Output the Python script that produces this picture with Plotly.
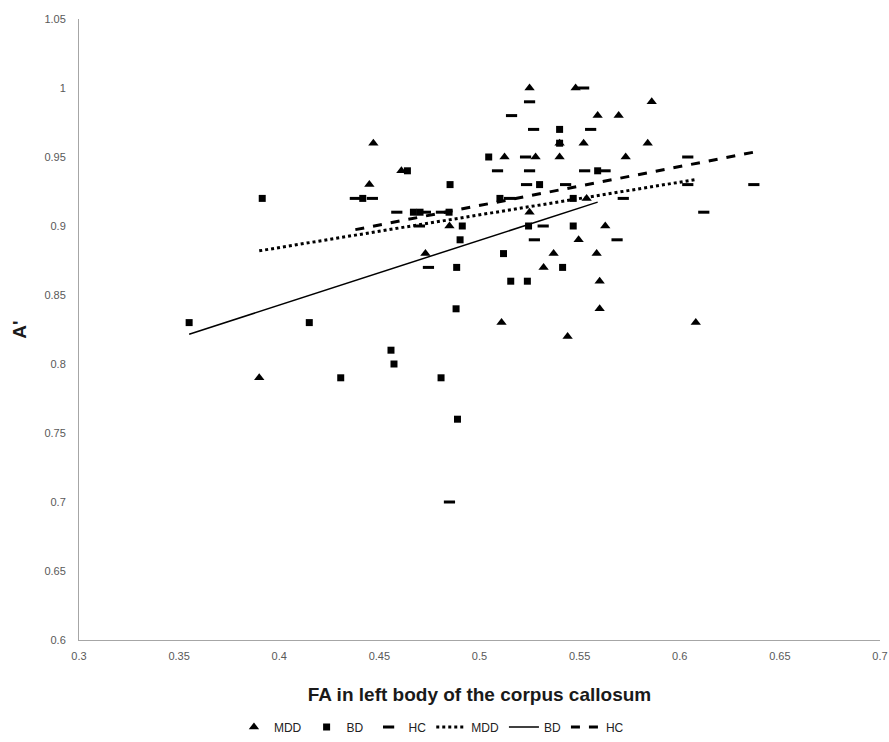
import numpy as np
import plotly.graph_objects as go

# MDD (triangles)
mdd_x = [0.390, 0.445, 0.447, 0.461, 0.473, 0.485, 0.511, 0.5125, 0.525, 0.525,
         0.528, 0.532, 0.537, 0.540, 0.540, 0.544, 0.548, 0.5495, 0.552, 0.5535,
         0.5585, 0.559, 0.560, 0.560, 0.5628, 0.5695, 0.573, 0.584, 0.586, 0.608]
mdd_y = [0.79, 0.93, 0.96, 0.94, 0.88, 0.90, 0.83, 0.95, 0.91, 1.00,
         0.95, 0.87, 0.88, 0.95, 0.96, 0.82, 1.00, 0.89, 0.96, 0.92,
         0.88, 0.98, 0.86, 0.84, 0.90, 0.98, 0.95, 0.96, 0.99, 0.83]

# BD (squares)
bd_x = [0.355, 0.3915, 0.415, 0.4307, 0.4417, 0.4558, 0.4573, 0.464, 0.467, 0.4703,
        0.4808, 0.4848, 0.4853, 0.4886, 0.4883, 0.489, 0.4903, 0.4914, 0.5046, 0.5102,
        0.512, 0.5156, 0.5239, 0.5245, 0.530, 0.540, 0.540, 0.5415, 0.5468, 0.5468, 0.559]
bd_y = [0.83, 0.92, 0.83, 0.79, 0.92, 0.81, 0.80, 0.94, 0.91, 0.91,
        0.79, 0.91, 0.93, 0.87, 0.84, 0.76, 0.89, 0.90, 0.95, 0.92,
        0.88, 0.86, 0.86, 0.90, 0.93, 0.97, 0.96, 0.87, 0.92, 0.90, 0.94]

# HC (dashes)
hc_x = [0.438, 0.4465, 0.4587, 0.470, 0.473, 0.481, 0.4745, 0.485, 0.509, 0.515,
        0.516, 0.523, 0.5235, 0.525, 0.525, 0.527, 0.5274, 0.5318, 0.543, 0.552,
        0.5525, 0.5555, 0.5627, 0.5718, 0.5687, 0.604, 0.604, 0.612, 0.637]
hc_y = [0.92, 0.92, 0.91, 0.90, 0.91, 0.91, 0.87, 0.70, 0.94, 0.92,
        0.98, 0.95, 0.93, 0.99, 0.94, 0.97, 0.89, 0.90, 0.93, 1.00,
        0.94, 0.97, 0.94, 0.92, 0.89, 0.95, 0.93, 0.91, 0.93]

x_ticks = [0.3, 0.35, 0.4, 0.45, 0.5, 0.55, 0.6, 0.65, 0.7]
x_tick_text = ["0.3", "0.35", "0.4", "0.45", "0.5", "0.55", "0.6", "0.65", "0.7"]
y_ticks = [0.6, 0.65, 0.7, 0.75, 0.8, 0.85, 0.9, 0.95, 1.0, 1.05]
y_tick_text = ["0.6", "0.65", "0.7", "0.75", "0.8", "0.85", "0.9", "0.95", "1", "1.05"]


def trend(xs, ys):
    xs = np.array(xs)
    ys = np.array(ys)
    m, b = np.polyfit(xs, ys, 1)
    xx = np.array([xs.min(), xs.max()])
    return xx, m * xx + b


fig = go.Figure()
fig.add_trace(go.Scatter(x=mdd_x, y=mdd_y, mode="markers", name="MDD",
                         marker=dict(symbol="triangle-up", size=9, color="black")))
fig.add_trace(go.Scatter(x=bd_x, y=bd_y, mode="markers", name="BD",
                         marker=dict(symbol="square", size=7, color="black")))
fig.add_trace(go.Scatter(x=hc_x, y=hc_y, mode="markers", name="HC",
                         marker=dict(symbol="line-ew", size=8, color="black",
                                     line=dict(width=3, color="black"))))

tx, ty = trend(mdd_x, mdd_y)
fig.add_trace(go.Scatter(x=tx, y=ty, mode="lines", name="MDD",
                         line=dict(color="black", width=3, dash="dot")))
tx, ty = trend(bd_x, bd_y)
fig.add_trace(go.Scatter(x=tx, y=ty, mode="lines", name="BD",
                         line=dict(color="black", width=1.5)))
tx, ty = trend(hc_x, hc_y)
fig.add_trace(go.Scatter(x=tx, y=ty, mode="lines", name="HC",
                         line=dict(color="black", width=3, dash="dash")))

fig.update_layout(
    width=889, height=742,
    margin=dict(l=79, r=9, t=19, b=102, autoexpand=False),
    paper_bgcolor="white", plot_bgcolor="white",
    font=dict(family="Liberation Sans, Arial, sans-serif", color="#404040"),
    showlegend=True,
    legend=dict(orientation="h", x=0.44, xanchor="center", y=-0.14, yanchor="middle",
                font=dict(size=12, color="#222222"), itemwidth=30, tracegroupgap=0),
    xaxis=dict(range=[0.3, 0.7], tickvals=x_ticks, ticktext=x_tick_text,
               showgrid=False, zeroline=False, showline=True, linecolor="#a6a6a6",
               linewidth=1, ticks="outside", ticklen=6, tickcolor="rgba(0,0,0,0)",
               tickfont=dict(size=11, color="#595959"), automargin=False,
               title=dict(text="<b>FA in left body of the corpus callosum</b>",
                          font=dict(size=19, color="#1a1a1a"), standoff=26)),
    yaxis=dict(range=[0.6, 1.05], tickvals=y_ticks, ticktext=y_tick_text,
               showgrid=False, zeroline=False, showline=True, linecolor="#a6a6a6",
               linewidth=1, ticks="outside", ticklen=10, tickcolor="rgba(0,0,0,0)",
               tickfont=dict(size=11, color="#595959"), automargin=False,
               title=dict(text="<b>A'</b>", font=dict(size=19, color="#1a1a1a"),
                          standoff=12)),
)

fig.write_html("out.html", config={"displayModeBar": False},
               post_script="document.body.style.margin='0';document.body.style.overflow='hidden';")
